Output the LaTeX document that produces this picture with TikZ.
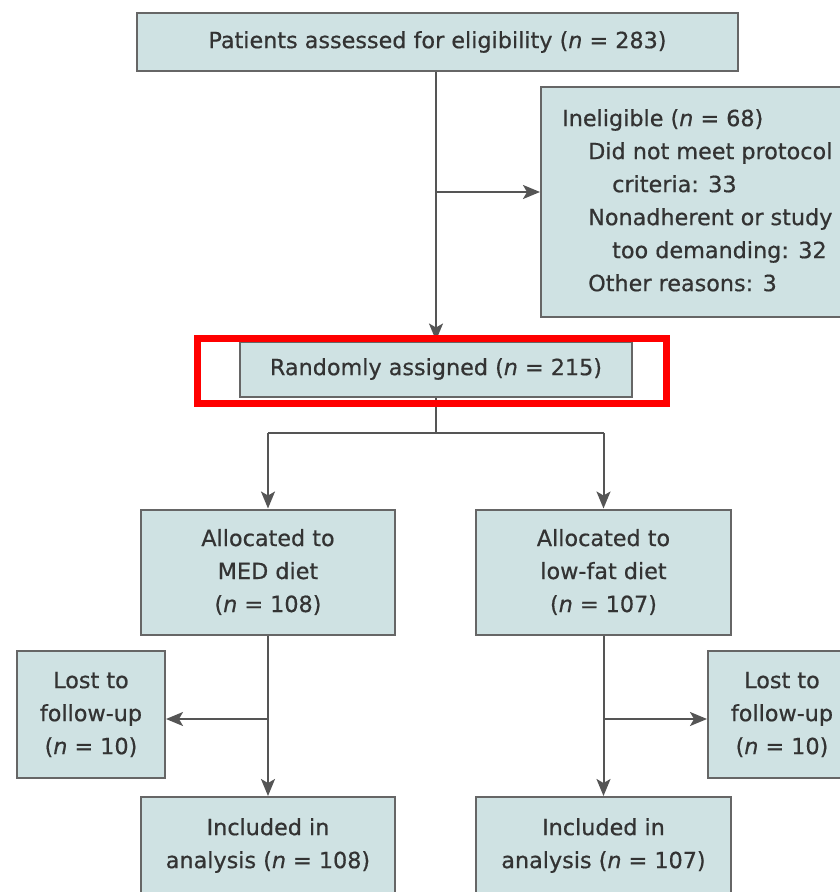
\documentclass[tikz,border=0pt]{standalone}
\usepackage{fontspec}
\setmainfont{DejaVu Sans}[FakeBold=0.6]
\usetikzlibrary{arrows.meta}
\definecolor{boxfill}{HTML}{CFE2E3}
\definecolor{boxline}{HTML}{666666}
\definecolor{txt}{HTML}{333333}
\definecolor{conn}{HTML}{555555}
\definecolor{hl}{HTML}{FF0000}
\tikzset{
  box/.style={draw=boxline, fill=boxfill, line width=2pt, inner sep=0pt,
    text=txt, align=center, font=\fontsize{22.3}{33}\selectfont},
  conline/.style={draw=conn, line width=2pt},
  conarrow/.style={conline, -{Stealth[length=17pt,width=14pt,inset=4pt]}},
  lefttext/.style={text=txt, align=left, inner sep=0pt, anchor=north west,
    font=\fontsize{22.3}{33}\selectfont},
  highlight/.style={draw=hl, line width=7pt}
}
\newcommand{\nn}{\textit{n}}
\begin{document}
\begin{tikzpicture}[x=1pt,y=-1pt]
\useasboundingbox (0,0) rectangle (839,892);
% boxes
\node[box, minimum width=601pt, minimum height=58pt] (top) at (437.5,42) {Patients assessed for eligibility (\nn{} = 283)};
\node[box, minimum width=314pt, minimum height=230pt] (inel) at (698,202) {};
\node[lefttext] (ineltext) at (562,109) {Ineligible (\nn{} = 68)\\
\hspace*{26pt}Did not meet protocol\\
\hspace*{50pt}criteria: 33\\
\hspace*{26pt}Nonadherent or study\\
\hspace*{50pt}too demanding: 32\\
\hspace*{26pt}Other reasons: 3};
\node[box, minimum width=392pt, minimum height=55pt] (rand) at (436,369) {Randomly assigned (\nn{} = 215)};
\node[box, minimum width=254pt, minimum height=125pt] (med) at (268,572) {Allocated to\\MED diet\\(\nn{} = 108)};
\node[box, minimum width=255pt, minimum height=125pt] (low) at (603.5,572) {Allocated to\\low-fat diet\\(\nn{} = 107)};
\node[box, minimum width=148pt, minimum height=127pt] (lost1) at (91,714.5) {Lost to\\follow-up\\(\nn{} = 10)};
\node[box, minimum width=148pt, minimum height=127pt] (lost2) at (782,714.5) {Lost to\\follow-up\\(\nn{} = 10)};
\node[box, minimum width=254pt, minimum height=97pt] (inc1) at (268,845.5) {Included in\\analysis (\nn{} = 108)};
\node[box, minimum width=255pt, minimum height=97pt] (inc2) at (603.5,845.5) {Included in\\analysis (\nn{} = 107)};
% connectors
\coordinate (j1) at (436,192);
\coordinate (s) at (436,433);
\coordinate (jl) at (268,719);
\coordinate (jr) at (603.5,719);
\draw[conarrow] (top.south -| rand.north) -- (rand.north);
\draw[conarrow] (j1) -- (inel.west |- j1);
\draw[conline] (rand.south) -- (s);
\draw[conline] (med.north |- s) -- (low.north |- s);
\draw[conarrow] (med.north |- s) -- (med.north);
\draw[conarrow] (low.north |- s) -- (low.north);
\draw[conarrow] (med.south) -- (inc1.north);
\draw[conarrow] (low.south) -- (inc2.north);
\draw[conarrow] (jl) -- (lost1.east |- jl);
\draw[conarrow] (jr) -- (lost2.west |- jr);
% highlight
\draw[highlight] (197,338) rectangle (666,403);
\end{tikzpicture}
\end{document}
